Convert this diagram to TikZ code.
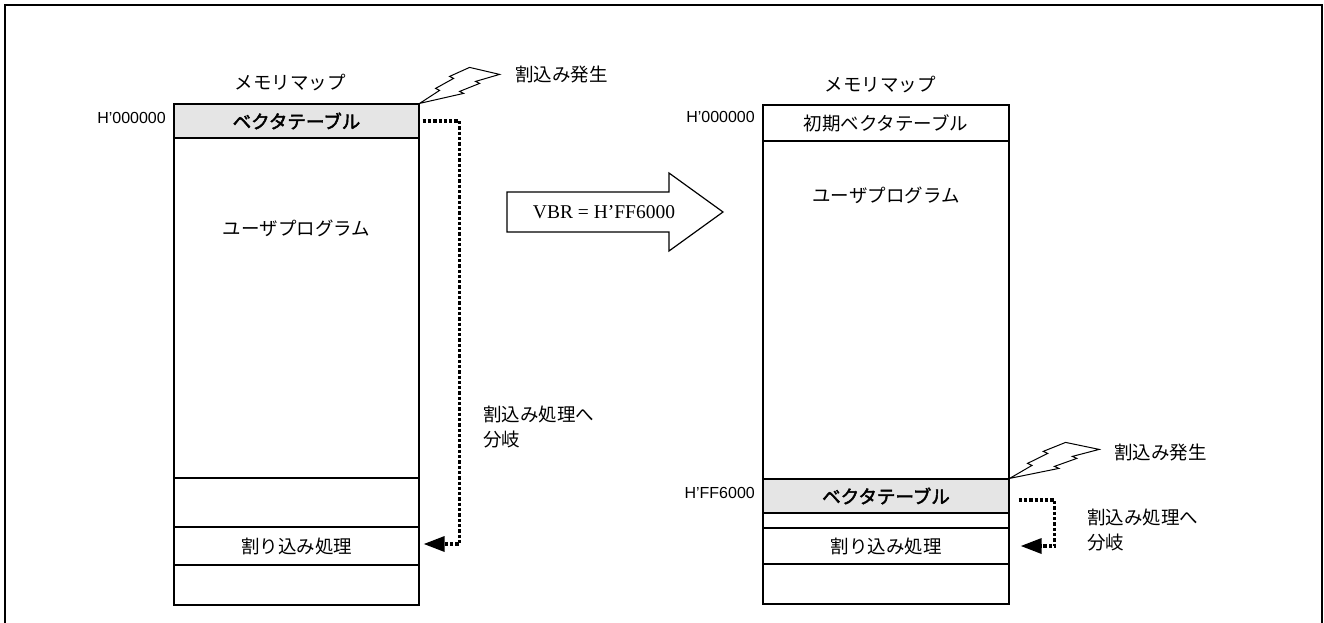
\documentclass[tikz,border=0pt]{standalone}
\usepackage{fontspec}
\setmainfont{Liberation Sans}
\newfontfamily\jp{Noto Sans CJK JP}
\newfontfamily\jpb{Noto Sans CJK JP}[FakeBold=2.5]
\newfontfamily\lat{Liberation Sans}
\newfontfamily\ser{Liberation Serif}
\usetikzlibrary{arrows.meta}
\tikzset{
  sec/.style={draw, line width=1.2pt, minimum width=245pt, inner sep=0pt, font=\jp\fontsize{18.5}{22}\selectfont},
  vt/.style={sec, fill=black!10, font=\jpb\fontsize{18.5}{22}\selectfont},
  jtext/.style={font=\jp\fontsize{18.5}{22}\selectfont, inner sep=0pt},
  addr/.style={font=\lat\fontsize{16}{19}\selectfont, inner sep=0pt, anchor=east},
  dotarrow/.style={line width=3.3pt, dash pattern=on 3.3pt off 2pt, -{Triangle[length=21pt,width=15pt]}},
  bolt/.style={draw, line width=1pt, fill=white, line join=miter},
  frameline/.style={line width=2.5pt},
  bigarrow/.style={draw, line width=1.2pt, fill=white}
}
\begin{document}
\begin{tikzpicture}[x=1pt,y=-1pt]
\useasboundingbox (0,0) rectangle (1324,623);
\draw[frameline] (5,640) -- (5,5) -- (1322,5) -- (1322,640);

% ---------- left memory map ----------
\node[jtext] (ltitle) at (290,83) {メモリマップ};
\node[vt, minimum height=34pt] (lvt) at (296.5,121) {ベクタテーブル};
\node[sec, minimum height=340pt] (luser) at (296.5,308) {};
\node[jtext] (lusertxt) at (296.5,228) {ユーザプログラム};
\node[sec, minimum height=49pt] (lb1) at (296.5,502.5) {};
\node[sec, minimum height=38pt] (lint) at (296.5,546) {割り込み処理};
\node[sec, minimum height=40pt] (lb2) at (296.5,585) {};
\node[addr] (laddr) at (166,118) {H’000000};

\begin{scope}[shift={(lvt.north east)}]
\draw[bolt] (0,0) -- (20,-13) -- (16,-15) -- (34,-25) -- (30,-27) -- (50,-36) -- (80,-29)
  -- (56,-22) -- (60,-20) -- (40,-12) -- (44,-10) -- cycle;
\end{scope}
\node[jtext, anchor=west] (lirq) at (515,75) {割込み発生};

\draw[dotarrow] ([xshift=3pt]lvt.east) -| ([xshift=40pt,yshift=2pt]lint.east) -- ([xshift=4pt,yshift=2pt]lint.east);
\node[jtext, anchor=west, align=left, font=\jp\fontsize{18.5}{25}\selectfont] (lbr) at (483,427) {割込み処理へ\\分岐};

% ---------- big arrow ----------
\draw[bigarrow] (507,192) -- (669,192) -- (669,173) -- (723,212) -- (669,251) -- (669,232) -- (507,232) -- cycle;
\node[font=\ser\fontsize{19.5}{22}\selectfont, inner sep=0pt] (vbr) at (604,212) {VBR = H’FF6000};

% ---------- right memory map ----------
\node[jtext] (rtitle) at (880,85) {メモリマップ};
\node[sec, minimum width=246pt, minimum height=36pt] (rvt0) at (886,123) {初期ベクタテーブル};
\node[sec, minimum width=246pt, minimum height=338pt] (ruser) at (886,310) {};
\node[jtext] (rusertxt) at (886,195) {ユーザプログラム};
\node[vt, minimum width=246pt, minimum height=34pt] (rvt) at (886,496) {ベクタテーブル};
\node[sec, minimum width=246pt, minimum height=15pt] (rb1) at (886,520.5) {};
\node[sec, minimum width=246pt, minimum height=36pt] (rint) at (886,546) {割り込み処理};
\node[sec, minimum width=246pt, minimum height=40pt] (rb2) at (886,584) {};
\node[addr] (raddr0) at (755,117) {H’000000};
\node[addr] (raddr1) at (755,493) {H’FF6000};

\begin{scope}[shift={(rvt.north east)}, xscale=1.12]
\draw[bolt] (0,0) -- (20,-13) -- (16,-15) -- (34,-25) -- (30,-27) -- (50,-36) -- (80,-29)
  -- (56,-22) -- (60,-20) -- (40,-12) -- (44,-10) -- cycle;
\end{scope}
\node[jtext, anchor=west] (rirq) at (1114,453) {割込み発生};

\draw[dotarrow] ([xshift=9pt,yshift=-4pt]rvt.east) -| ([xshift=45pt]rint.east) -- ([xshift=11pt]rint.east);
\node[jtext, anchor=west, align=left, font=\jp\fontsize{18.5}{25}\selectfont] (rbr) at (1087,530) {割込み処理へ\\分岐};
\end{tikzpicture}
\end{document}
